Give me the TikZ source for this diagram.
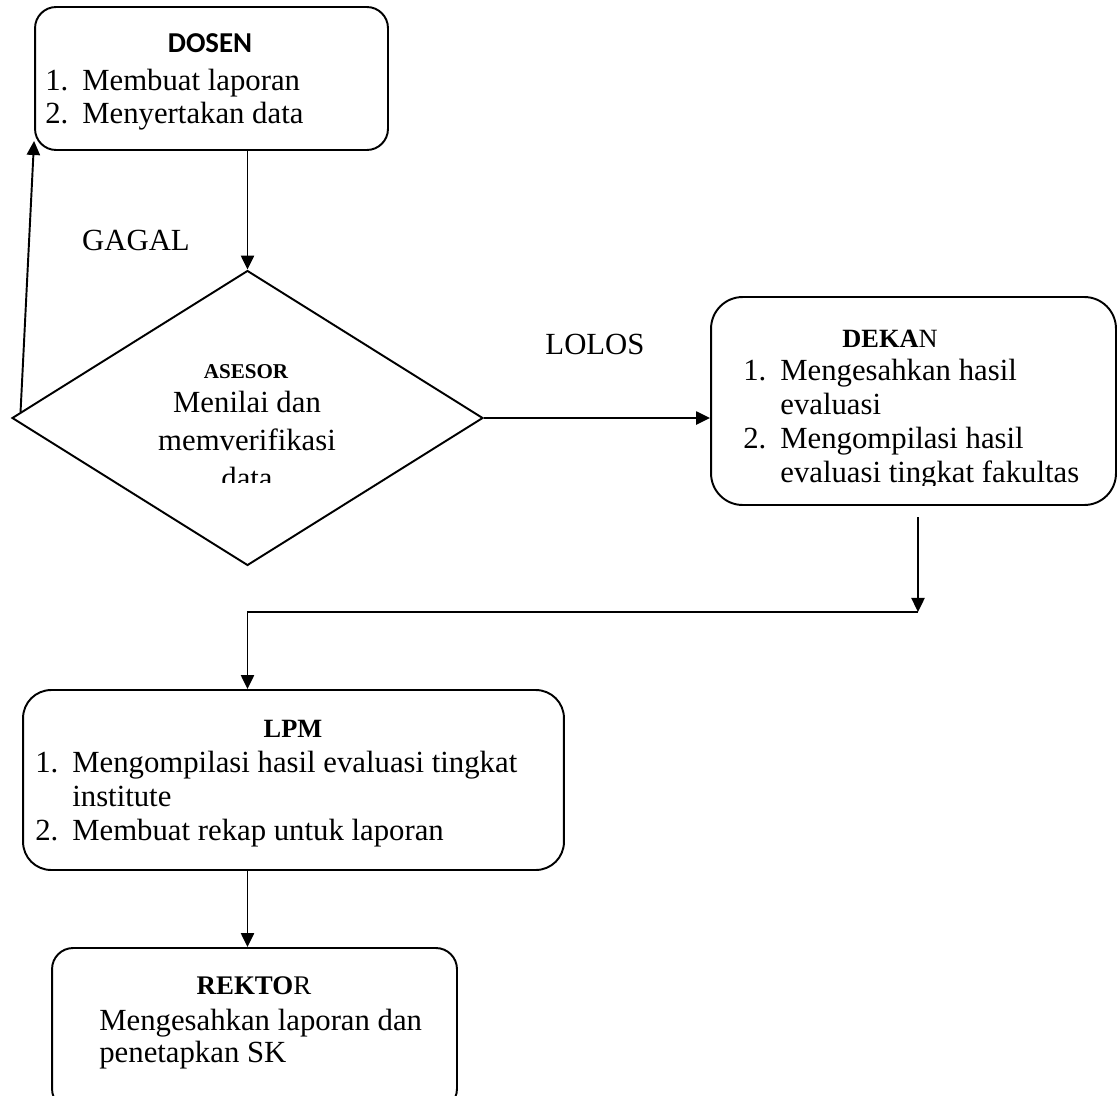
\documentclass[tikz,border=0pt]{standalone}
\usepackage{fontspec}
\setmainfont{Liberation Serif}
\newfontfamily\titlesans{Carlito}
\usetikzlibrary{shapes.geometric, arrows.meta, positioning, calc}

\newcommand{\numitem}[2]{\makebox[0.74cm][l]{#1}#2}
\newcommand{\contitem}[1]{\hspace*{0.74cm}#1}

\begin{document}
\begin{tikzpicture}[
      x=0.02cm, y=-0.02cm,
      box/.style={rectangle, draw, rounded corners=12pt, line width=1.1pt, inner sep=0pt},
      decision/.style={diamond, draw, line width=1.1pt, inner sep=0pt},
      body/.style={inner sep=0pt, align=left, anchor=north west, font=\fontsize{17.5}{19.3}\selectfont},
      heading/.style={inner sep=0pt, anchor=base, font=\fontsize{15}{18}\selectfont},
      answer/.style={inner sep=0pt, anchor=base, font=\fontsize{17.5}{20}\selectfont},
      line/.style={draw, -{Triangle[length=8pt, width=7.5pt]}, line width=1.1pt}
  ]
  \useasboundingbox (0,0) rectangle (1118,1095);

  % boxes
  \node [box, minimum width=7.06cm, minimum height=2.86cm] (dosen) at (211.5,78.5) {};
  \node [decision, minimum width=9.42cm, minimum height=5.9cm] (asesor) at (247.5,418) {};
  \node [box, rounded corners=18pt, minimum width=8.1cm, minimum height=4.16cm] (dekan) at (913.5,401) {};
  \node [box, rounded corners=16pt, minimum width=10.82cm, minimum height=3.6cm] (lpm) at (293.5,780) {};
  \node [box, minimum width=8.1cm, minimum height=3.24cm] (rektor) at (254.5,1029) {};

  % texts
  \node [heading, font=\fontsize{16.4}{18}\titlesans\bfseries] (dosen-title) at (210,53) {DOSEN};
  \node [body, font=\fontsize{17.5}{18.7}\selectfont] (dosen-list) at (45,69)
    {\numitem{1.}{Membuat laporan}\\ \numitem{2.}{Menyertakan data}};

  \node [heading, font=\fontsize{12}{14}\selectfont\bfseries] (asesor-title) at (246,378) {ASESOR};
  \begin{scope}
    \clip (100,380) rectangle (400,482);
    \node [body, align=center, anchor=north, font=\fontsize{17.5}{21.5}\selectfont] (asesor-text) at (247,391)
      {Menilai dan\\ memverifikasi\\ data};
  \end{scope}

  \node [heading] (dekan-title) at (890,347) {\textbf{DEKA}N};
  \begin{scope}
    \clip (711,297) rectangle (1116,485);
    \node [body] (dekan-list) at (743,359)
      {\numitem{1.}{Mengesahkan hasil}\\ \contitem{evaluasi}\\
       \numitem{2.}{Mengompilasi hasil}\\ \contitem{evaluasi tingkat fakultas}};
  \end{scope}

  \node [heading] (lpm-title) at (293,737) {\textbf{LPM}};
  \node [body] (lpm-list) at (35,751)
    {\numitem{1.}{Mengompilasi hasil evaluasi tingkat}\\ \contitem{institute}\\
     \numitem{2.}{Membuat rekap untuk laporan}};

  \node [heading, font=\fontsize{15.3}{18}\selectfont] (rektor-title) at (254,994) {\textbf{REKTO}R};
  \node [body, font=\fontsize{17.5}{18.2}\selectfont] (rektor-text) at (99,1009)
    {Mengesahkan laporan dan\\ penetapkan SK};

  \node [answer] (gagal) at (136,250) {GAGAL};
  \node [answer] (lolos) at (595,354) {LOLOS};

  % connectors
  \coordinate (dk-out) at (918,517);
  \coordinate (dk-turn) at (918,612);
  \path [line] (dosen.south -| asesor.north) -- (asesor.north);
  \path [line] ($(asesor.west)!0.04!(asesor.north)$) -- ($(dosen.south west)+(0,-10)$);
  \path [line] (asesor.east) -- (asesor.east -| dekan.west);
  \path [line] (dk-out) -- (dk-turn);
  \path [line] (dk-turn) -| (lpm.north -| asesor.south);
  \path [line] (lpm.south -| asesor.south) -- (rektor.north -| asesor.south);

\end{tikzpicture}
\end{document}
